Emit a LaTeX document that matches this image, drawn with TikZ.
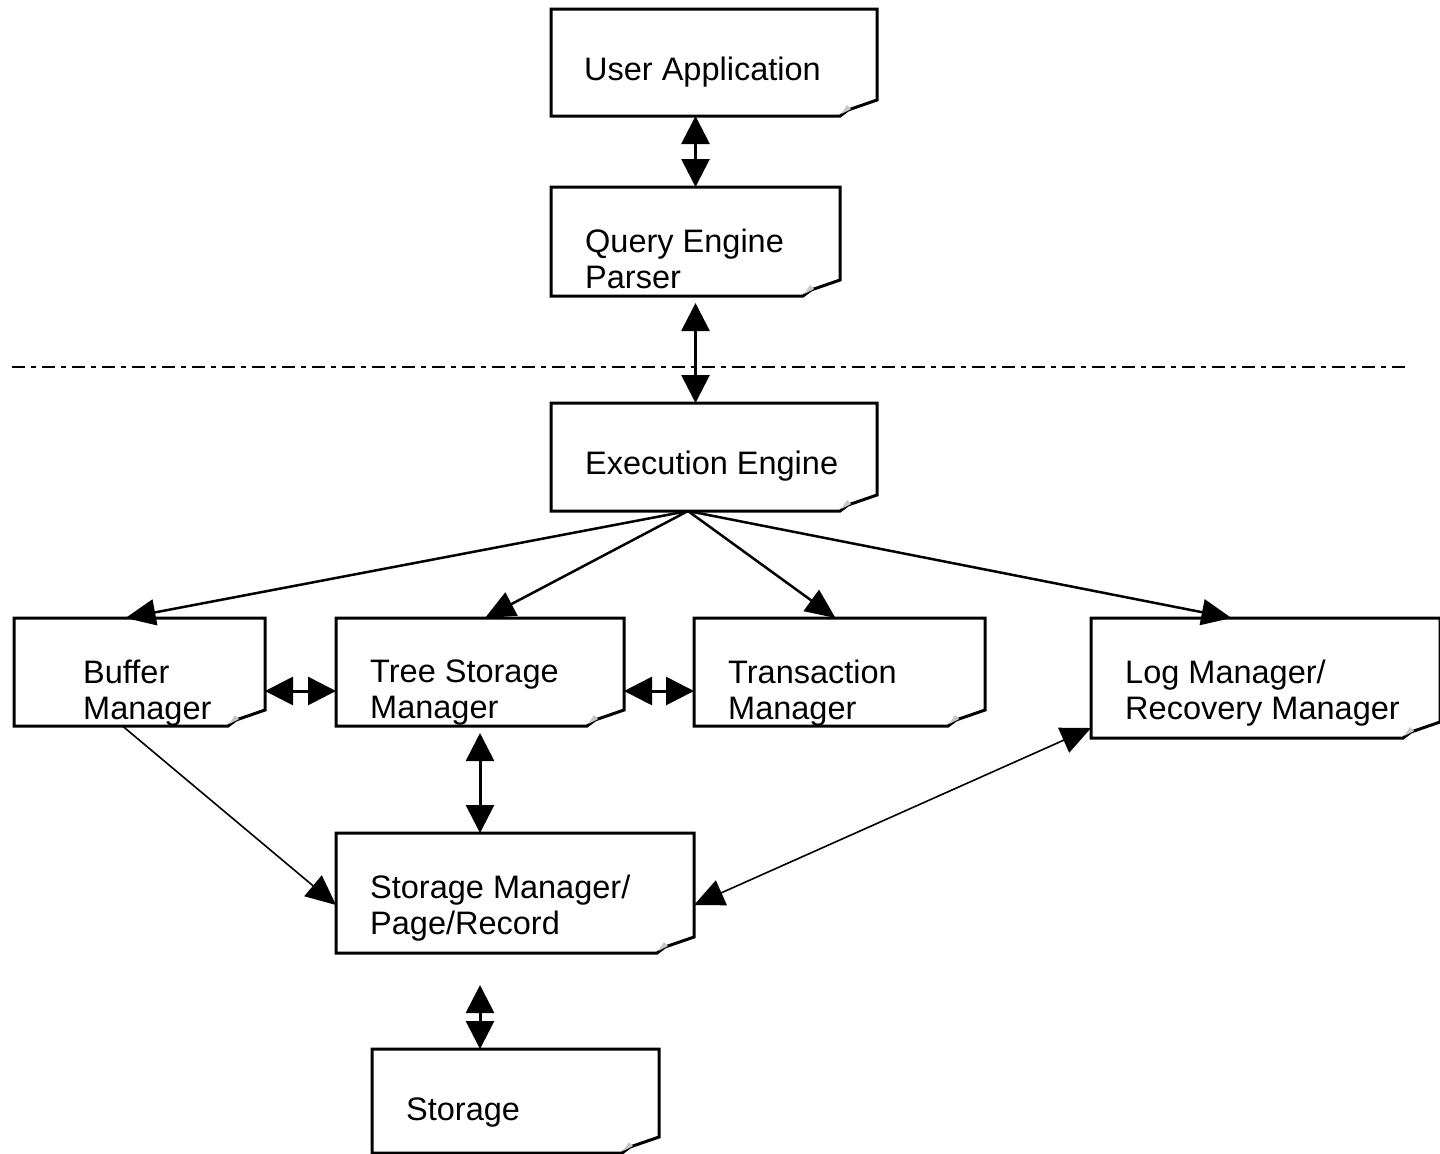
\documentclass[tikz,border=0pt]{standalone}
\usepackage{fontspec}
\setmainfont{Liberation Sans}
\usetikzlibrary{arrows.meta, calc}

\begin{document}
\begin{tikzpicture}[
  x=1bp, y=-1bp,
  memo/.style={rectangle, anchor=north west, inner sep=0pt, outer sep=0pt},
  txt/.style={anchor=north west, inner sep=0pt, align=left, xshift=34bp, yshift=-42bp,
    font=\fontsize{32.5bp}{36bp}\selectfont},
  txt1/.style={txt, yshift=-6bp},
  box/.style={line width=3bp, line join=miter},
  fold/.style={fill=gray!45},
  link/.style={line width=3bp, {Triangle[length=28bp, width=28bp]}-{Triangle[length=28bp, width=28bp]}},
  fan/.style={line width=2.5bp, -{Triangle[length=30bp, width=26bp]}},
  thin link/.style={line width=1.6bp, -{Triangle[length=30bp, width=27bp]}},
  both thin/.style={line width=1.6bp, {Triangle[length=30bp, width=27bp]}-{Triangle[length=30bp, width=27bp]}},
  sep/.style={line width=2.5bp, dash pattern=on 13bp off 6bp on 5bp off 6bp}
]
  \useasboundingbox (0,0) rectangle (1440,1153);

  % front end
  \node[memo, minimum width=326bp, minimum height=107bp, label={[txt1, xshift=-1bp]north west:User Application}] (user) at (551,9) {};
  \node[memo, minimum width=289bp, minimum height=109bp, label={[txt]north west:{Query Engine\\Parser}}] (query) at (551,187) {};

  \draw[sep] (12,367) -- (1410,367);

  % engine and managers
  \node[memo, minimum width=326bp, minimum height=108bp, label={[txt1]north west:Execution Engine}] (exec) at (551,403) {};
  \node[memo, minimum width=251bp, minimum height=108bp, label={[txt, xshift=35bp]north west:{Buffer\\Manager}}] (buffer) at (14,618) {};
  \node[memo, minimum width=288bp, minimum height=108bp, label={[txt]north west:{Tree Storage\\Manager}}] (tree) at (336,618) {};
  \node[memo, minimum width=291bp, minimum height=108bp, label={[txt]north west:{Transaction\\Manager}}] (trans) at (694,618) {};
  \node[memo, minimum width=349bp, minimum height=120bp, label={[txt]north west:{Log Manager/\\Recovery Manager}}] (log) at (1091,618) {};
  \node[memo, minimum width=358bp, minimum height=120bp, label={[txt]north west:{Storage Manager/\\Page/Record}}] (store) at (336,833) {};
  \node[memo, minimum width=287bp, minimum height=104bp, label={[txt1, yshift=-1bp]north west:Storage}] (disk) at (372,1049) {};

  % outlines with the turned-up corner
  \foreach \n in {user,query,exec,buffer,tree,trans,log,store,disk} {
    \draw[box] (\n.north west) -- (\n.north east) -- ([yshift=16bp]\n.south east)
      -- ([xshift=-29bp,yshift=6bp]\n.south east) -- ([xshift=-37bp]\n.south east)
      -- (\n.south west) -- cycle;
    \fill[fold] ([xshift=-36bp,yshift=2bp]\n.south east) -- ([xshift=-30bp,yshift=11bp]\n.south east)
      -- ([xshift=-26bp,yshift=7bp]\n.south east) -- cycle;
  }

  % connectors
  \draw[link] (user.south -| query.north) -- (query.north);
  \draw[link, shorten <=7bp] (query.south) -- (exec.north -| query.south);

  \coordinate (hub) at ([xshift=-26bp]exec.south);
  \draw[fan] (hub) -- ([xshift=-14bp]buffer.north);
  \draw[fan] (hub) -- ([xshift=5bp]tree.north);
  \draw[fan] (hub) -- ([xshift=-4bp]trans.north);
  \draw[fan] (hub) -- ([xshift=-34bp]log.north);

  \draw[link] ([yshift=-19bp]buffer.east) -- ([yshift=-19bp]tree.west);
  \draw[link] ([yshift=-19bp]tree.east) -- ([yshift=-19bp]trans.west);
  \draw[link, shorten <=7bp] (tree.south) -- (tree.south |- store.north);
  \draw[link, shorten <=32bp] (store.south -| tree.south) -- (tree.south |- disk.north);

  \draw[thin link] ([xshift=-17bp]buffer.south) -- ([yshift=-12bp]store.west);
  \draw[both thin] ([yshift=-12bp]store.east) -- ([yshift=10bp]log.south west);
\end{tikzpicture}
\end{document}
